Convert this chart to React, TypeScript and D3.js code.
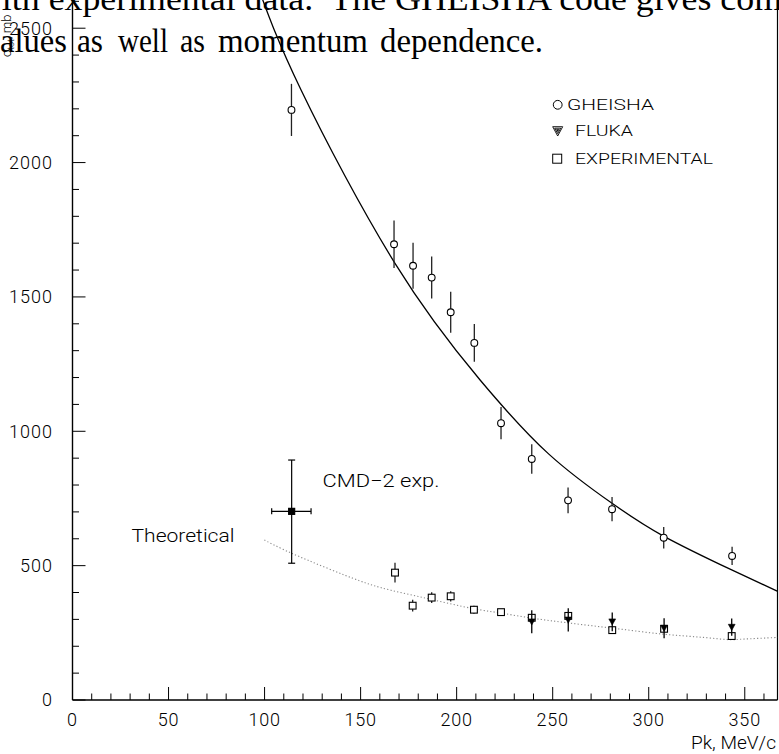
import React from "react";
import * as d3 from "d3";

const W = 779;
const H = 754;

// GHEISHA (open circles)
const gheishaX = [114.0, 167.4, 177.3, 187.0, 196.9, 209.2, 223.1, 239.1, 258.0, 280.9, 307.8, 343.4];
const gheishaY = [2196, 1696, 1616, 1572, 1443, 1329, 1030, 897, 743, 710, 604, 536];
const gheishaErr = [97, 88, 86, 78, 76, 70, 60, 55, 48, 45, 40, 34];

// EXPERIMENTAL (open squares)
const expX = [167.9, 177.1, 187.0, 196.9, 209.0, 223.1, 239.1, 258.1, 281.0, 308.0, 343.2];
const expY = [474, 351, 381, 386, 336, 327, 306, 313, 260, 265, 238];
const expErr = [37, 22, 20, 19, 15, 11, 10, 10, 10, 10, 10];

// FLUKA (filled down triangles)
const flukaX = [239.1, 258.1, 281.0, 308.0, 343.2];
const flukaY = [291, 298, 291, 267, 271];
const flukaErr = [43, 43, 35, 37, 32];

// CMD-2 experimental point
const cmdX = [114.1];
const cmdY = [702];
const cmdYLo = [509];
const cmdYHi = [893];
const cmdXLo = [103.7];
const cmdXHi = [124.2];

// GHEISHA fit curve (solid)
const fitX = [96.0, 119.0, 167.9, 212.2, 248.0, 280.9, 307.7, 343.2, 367.5];
const fitY = [2665, 2270, 1625, 1191, 915, 732, 610, 484, 403];

// Theoretical curve (dotted)
const theoX = [99.9, 114.1, 149.7, 160.1, 184.4, 208.7, 222.6, 239.8, 258.0, 281.6, 307.6, 328.4, 343.2, 347.6, 367.5];
const theoY = [595, 546, 443, 419, 378, 340, 324, 304, 287, 267, 245, 233, 224, 226, 233];

const xTickLabels = [0, 50, 100, 150, 200, 250, 300, 350];
const yTickLabels = [0, 500, 1000, 1500, 2000, 2500];

const SANS = "Roboto, 'DejaVu Sans', sans-serif";
const SERIF = "'Liberation Serif', 'DejaVu Serif', serif";

// overlaid page text
const line1Text = "with experimental data.\u00A0 The GHEISHA code gives com";
const line2Words = ["alues", "as", "well", "as", "momentum", "dependence."];
const line2Start = [0, 77, 118, 180, 218, 380];
const line2End = [67, 103, 168, 205, 368, 543];

export default function App() {
  const x = d3.scaleLinear().domain([0, 367.3]).range([72.5, 778]);
  const y = d3.scaleLinear().domain([0, 2605]).range([700, 0]);
  const x0 = x(0);
  const y0 = y(0);
  const xR = 777.5;

  const fitLine = d3
    .line<number>()
    .x((_, i) => x(fitX[i]))
    .y((d) => y(d))
    .curve(d3.curveNatural)(fitY) as string;

  const theoLine = d3
    .line<number>()
    .x((_, i) => x(theoX[i]))
    .y((d) => y(d))
    .curve(d3.curveCatmullRom.alpha(0.5))(theoY) as string;

  const xTicks = d3.range(0, 361, 10);
  const yTicks = d3.range(0, 2601, 100);

  const tri = (cx: number, cy: number, s: number) =>
    `M${cx - s},${cy - s * 0.85}L${cx + s},${cy - s * 0.85}L${cx},${cy + s * 0.95}Z`;

  const label = (
    txt: string,
    xx: number,
    yy: number,
    len: number,
    size: number,
    key?: string
  ) => (
    <text
      key={key}
      x={xx}
      y={yy}
      fontFamily={SANS}
      fontWeight={300}
      fontSize={size}
      textLength={len}
      lengthAdjust="spacingAndGlyphs"
      fill="#000"
    >
      {txt}
    </text>
  );

  return (
    <svg
      width={W}
      height={H}
      viewBox={`0 0 ${W} ${H}`}
      style={{ position: "absolute", left: 0, top: 0, background: "#fff" }}
    >
      <rect x={0} y={0} width={W} height={H} fill="#fff" />
      <defs>
        <clipPath id="plot">
          <rect x={x0} y={0} width={xR - x0} height={y0} />
        </clipPath>
      </defs>

      {/* axes frame */}
      <line x1={x0} y1={0} x2={x0} y2={y0} stroke="#000" strokeWidth={1.4} />
      <line x1={x0} y1={y0} x2={xR} y2={y0} stroke="#000" strokeWidth={1.4} />
      <line x1={xR} y1={0} x2={xR} y2={y0} stroke="#000" strokeWidth={1.2} />

      {/* x ticks */}
      {xTicks.map((t) => (
        <line
          key={"xt" + t}
          x1={x(t)}
          x2={x(t)}
          y1={y0}
          y2={y0 - (t % 50 === 0 ? 13 : 6.5)}
          stroke="#000"
          strokeWidth={1}
        />
      ))}
      {xTickLabels.map((t) => (
        <text
          key={"xl" + t}
          x={x(t)}
          y={726}
          textAnchor="middle"
          fontFamily={SANS}
          fontWeight={300}
          fontSize={18}
          letterSpacing={0.8}
          fill="#000"
        >
          {t}
        </text>
      ))}

      {/* y ticks */}
      {yTicks.map((t) => (
        <line
          key={"yt" + t}
          x1={x0}
          x2={x0 + (t % 500 === 0 ? 13 : 6.5)}
          y1={y(t)}
          y2={y(t)}
          stroke="#000"
          strokeWidth={1}
        />
      ))}
      {yTickLabels.map((t) => (
        <text
          key={"yl" + t}
          x={53}
          y={y(t)}
          dy="0.36em"
          textAnchor="end"
          fontFamily={SANS}
          fontWeight={300}
          fontSize={18}
          letterSpacing={1}
          fill="#000"
        >
          {t}
        </text>
      ))}

      {/* axis titles */}
      {label("Pk, MeV/c", 691, 749, 85, 18)}
      <text
        transform="translate(11,57) rotate(-90)"
        fontFamily={SANS}
        fontWeight={300}
        fontSize={13}
        fill="#000"
      >
        σ<tspan fontSize={9} dy={3}>tot</tspan>
        <tspan dy={-3} fontSize={13}>, mb</tspan>
      </text>

      <g clipPath="url(#plot)">
        {/* theoretical dotted curve */}
        <path d={theoLine} fill="none" stroke="#888" strokeWidth={1.1} strokeDasharray="1.2 2.2" />
        {/* GHEISHA fit */}
        <path d={fitLine} fill="none" stroke="#000" strokeWidth={1.3} />

        {/* GHEISHA error bars + circles */}
        {gheishaY.map((v, i) => (
          <line
            key={"ge" + i}
            x1={x(gheishaX[i])}
            x2={x(gheishaX[i])}
            y1={y(v - gheishaErr[i])}
            y2={y(v + gheishaErr[i])}
            stroke="#222"
            strokeWidth={1.3}
          />
        ))}
        {gheishaY.map((v, i) => (
          <circle key={"gc" + i} cx={x(gheishaX[i])} cy={y(v)} r={3.4} fill="#fff" stroke="#000" strokeWidth={1.1} />
        ))}

        {/* EXPERIMENTAL */}
        {expY.map((v, i) => (
          <line
            key={"ee" + i}
            x1={x(expX[i])}
            x2={x(expX[i])}
            y1={y(v - expErr[i])}
            y2={y(v + expErr[i])}
            stroke="#222"
            strokeWidth={1.3}
          />
        ))}
        {expY.map((v, i) => (
          <rect
            key={"er" + i}
            x={x(expX[i]) - 3.4}
            y={y(v) - 3.4}
            width={6.8}
            height={6.8}
            fill="#fff"
            stroke="#000"
            strokeWidth={1.1}
          />
        ))}

        {/* FLUKA */}
        {flukaY.map((v, i) => (
          <line
            key={"fe" + i}
            x1={x(flukaX[i])}
            x2={x(flukaX[i])}
            y1={y(v - flukaErr[i])}
            y2={y(v + flukaErr[i])}
            stroke="#000"
            strokeWidth={1.3}
          />
        ))}
        {flukaY.map((v, i) => (
          <path key={"ft" + i} d={tri(x(flukaX[i]), y(v), 3.4)} fill="#000" stroke="#000" strokeWidth={0.6} />
        ))}

        {/* CMD-2 point */}
        {cmdY.map((v, i) => {
          const cx = x(cmdX[i]);
          const cy = y(v);
          return (
            <g key={"cmd" + i} stroke="#000" strokeWidth={1.2}>
              <line x1={cx} x2={cx} y1={y(cmdYLo[i])} y2={y(cmdYHi[i])} />
              <line x1={cx - 3.5} x2={cx + 3.5} y1={y(cmdYLo[i])} y2={y(cmdYLo[i])} />
              <line x1={cx - 3.5} x2={cx + 3.5} y1={y(cmdYHi[i])} y2={y(cmdYHi[i])} />
              <line x1={x(cmdXLo[i])} x2={x(cmdXHi[i])} y1={cy} y2={cy} />
              <line x1={x(cmdXLo[i])} x2={x(cmdXLo[i])} y1={cy - 3} y2={cy + 3} />
              <line x1={x(cmdXHi[i])} x2={x(cmdXHi[i])} y1={cy - 3} y2={cy + 3} />
              <rect x={cx - 3} y={cy - 3} width={6} height={6} fill="#000" />
            </g>
          );
        })}
      </g>

      {/* annotations */}
      {label("CMD−2 exp.", 322.5, 487, 117, 18)}
      {label("Theoretical", 131.5, 541.5, 103, 18)}

      {/* legend */}
      <circle cx={557.7} cy={104.8} r={4.4} fill="#fff" stroke="#000" strokeWidth={1} />
      {label("GHEISHA", 567, 109.5, 87, 15.5)}
      <path d="M552.7,126.7L562.7,126.7L557.7,136Z" fill="none" stroke="#000" strokeWidth={0.9} />
      <path d="M554.7,128.2L560.7,128.2L557.7,133.6Z" fill="none" stroke="#000" strokeWidth={0.9} />
      <path d="M556.5,129.4L558.9,129.4L557.7,131.6Z" fill="#000" stroke="#000" strokeWidth={0.6} />
      {label("FLUKA", 575, 136, 58, 15.5)}
      <rect x={552.7} y={154.2} width={9} height={9} fill="#fff" stroke="#000" strokeWidth={1} />
      {label("EXPERIMENTAL", 575, 163.5, 138, 15.5)}

      {/* overlaid page text */}
      <text
        x={-24}
        y={10}
        fontFamily={SERIF}
        fontSize={34}
        textLength={806}
        lengthAdjust="spacingAndGlyphs"
        fill="#000"
      >
        {line1Text}
      </text>
      {line2Words.map((w, i) => (
        <text
          key={"l2" + i}
          x={line2Start[i]}
          y={52}
          fontFamily={SERIF}
          fontSize={34}
          textLength={line2End[i] - line2Start[i]}
          lengthAdjust="spacingAndGlyphs"
          fill="#000"
        >
          {w}
        </text>
      ))}
    </svg>
  );
}
